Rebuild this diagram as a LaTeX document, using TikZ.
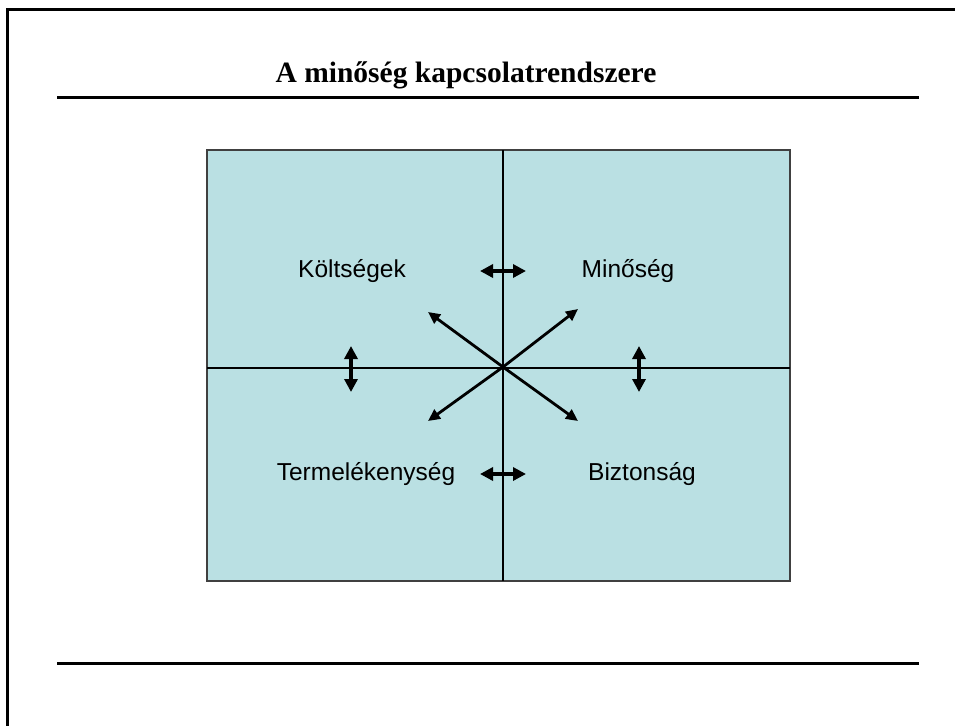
\documentclass[tikz,border=0pt]{standalone}
\usepackage{fontspec}
\setmainfont{Liberation Serif}
\setsansfont{Liberation Sans}
\usetikzlibrary{arrows.meta}
\definecolor{panel}{HTML}{BAE0E3}
\definecolor{edge}{HTML}{404040}

\begin{document}
\begin{tikzpicture}[x=1pt,y=-1pt, % pixel units, y axis down
    rule/.style={line width=3pt},
    link/.style={line width=3.4pt,{Triangle[length=13pt,width=13pt]}-{Triangle[length=13pt,width=13pt]}},
    ray/.style={line width=2.8pt,-{Triangle[length=12pt,width=11pt]}},
    label/.style={font=\sffamily\fontsize{24.5}{28}\selectfont,anchor=base}]
      \useasboundingbox (0,0) rectangle (955,726);
      % frame and rules
      \draw[rule] (955,9) -- (7,9) -- (7,726);
      \draw[rule] (57,97) -- (919,97);
      \draw[rule] (57,663) -- (919,663);
      \node[anchor=base,font=\bfseries\fontsize{29.5}{34}\selectfont] (title) at (466,82) {A minőség kapcsolatrendszere};
      % panel split in four
      \draw[edge,line width=2pt,fill=panel] (207,150) rectangle (790,581);
      \draw[line width=2pt] (503,150) -- (503,581);
      \draw[line width=2pt] (207,368) -- (790,368);
      \node[label] (cost) at (352,277) {Költségek};
      \node[label] (qual) at (628,277) {Minőség};
      \node[label] (prod) at (366,480) {Termelékenység};
      \node[label] (safe) at (642,480) {Biztonság};
      % arrows
      \coordinate (c) at (503,367);
      \foreach \name/\px/\py in {nw/428/312, ne/578/309, sw/428/421, se/578/421}
          \coordinate (\name) at (\px,\py);
      \foreach \name in {nw,ne,sw,se}
          \draw[ray] (c) -- (\name);
      \coordinate (tl) at (480,271);  \coordinate (tr) at (526,271);
      \coordinate (bl) at (480,474);  \coordinate (br) at (526,474);
      \coordinate (lt) at (351,346);  \coordinate (lb) at (351,392);
      \coordinate (rt) at (639,346);  \coordinate (rb) at (639,392);
      \draw[link] (tl) -- (tr);
      \draw[link] (bl) -- (br);
      \draw[link] (lt) -- (lb);
      \draw[link] (rt) -- (rb);
\end{tikzpicture}
\end{document}
